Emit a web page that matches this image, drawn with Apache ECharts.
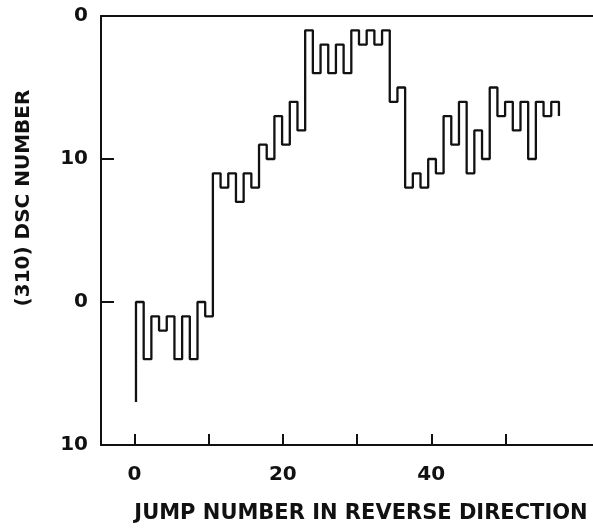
<!DOCTYPE html>
<html>
<head>
<meta charset="utf-8">
<script src="https://cdn.jsdelivr.net/npm/echarts@6/dist/echarts.min.js"></script>
<style>
html,body{margin:0;padding:0;background:#fff;}
#chart{width:593px;height:529px;}
</style>
</head>
<body>
<div id="chart"></div>
<script>
// Jump numbers (position of each vertical step) and DSC number after each jump
const jumpNumber = [0,1,2,3,4,5,6,7,8,9,10,11,12,13,14,15,16,17,18,19,20,
  21,22,23,24,25,26,27,28,29,30,31,32,33,34,35,36,37,38,39,40,
  41,42,43,44,45,46,47,48,49,50,51,52,53,54,55,55];
const dscNumber = [-7,
  0,-4,-1,-2,-1,-4,-1,-4,0,-1,
  9,8,9,7,9,8,11,10,13,11,
  14,12,19,16,18,16,18,16,19,18,
  19,18,19,14,15,8,9,8,10,9,
  13,11,14,9,12,10,15,13,14,12,
  14,10,14,13,14,
  13];
// axis ticks and labels as printed
const xTickValues = [0,10,20,30,40,50];
const xLabelValues = [0,20,40];
const yTickValues = [-10,0,10,20];
const yTickLabels = ['10','0','10','0'];
const xTitle = 'JUMP NUMBER IN REVERSE DIRECTION';
const yTitle = '(310) DSC NUMBER';

const ink = '#111';
const font = '"DejaVu Sans", Verdana, sans-serif';

const chart = echarts.init(document.getElementById('chart'), null, {renderer:'canvas'});
const seriesData = jumpNumber.map((x, i) => [x, dscNumber[i]]);

chart.setOption({
  animation: false,
  backgroundColor: '#fff',
  grid: {left: 101, right: 0, top: 16, bottom: 71, containLabel: false},
  xAxis: [
    {
      type: 'value', position: 'bottom',
      min: -4.51, max: 61.8,
      axisLine: {show: true, onZero: false, lineStyle: {color: ink, width: 2}},
      axisTick: {show: true, inside: true, length: 11, lineStyle: {color: ink, width: 2}, customValues: xTickValues},
      axisLabel: {show: true, margin: 20, color: ink, fontSize: 20, fontWeight: 'bold', fontFamily: font, customValues: xLabelValues},
      splitLine: {show: false},
      name: xTitle, nameLocation: 'middle', nameGap: 58,
      nameTextStyle: {color: ink, fontSize: 21, fontWeight: 'bold', fontFamily: font, padding: [0,0,0,28]}
    },
    {
      type: 'value', position: 'top',
      min: -4.55, max: 59.43,
      axisLine: {show: true, onZero: false, lineStyle: {color: ink, width: 2}},
      axisTick: {show: false},
      axisLabel: {show: false},
      splitLine: {show: false}
    }
  ],
  yAxis: {
    type: 'value',
    min: -10, max: 20, interval: 10,
    axisLine: {show: true, onZero: false, lineStyle: {color: ink, width: 2}},
    axisTick: {show: true, inside: true, length: 13, lineStyle: {color: ink, width: 2}},
    axisLabel: {
      margin: 13, color: ink, fontSize: 20, fontWeight: 'bold', fontFamily: font,
      formatter: v => { const i = yTickValues.indexOf(v); return i >= 0 ? yTickLabels[i] : ''; }
    },
    splitLine: {show: false}
  },
  graphic: [{
    type: 'text', x: 24, y: 198, rotation: Math.PI / 2,
    style: {text: yTitle, fill: ink, font: 'bold 20px ' + font, textAlign: 'center', textVerticalAlign: 'middle'}
  }],
  series: [{
    type: 'line', xAxisIndex: 1, step: 'start',
    data: seriesData, symbol: 'none',
    lineStyle: {color: ink, width: 2.3},
    clip: false
  }]
});
</script>
</body>
</html>
